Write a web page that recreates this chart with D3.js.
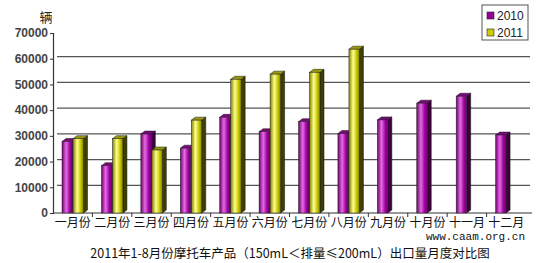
<!DOCTYPE html>
<html>
<head>
<meta charset="utf-8">
<script src="https://cdn.jsdelivr.net/npm/d3@7"></script>
<style>
body { margin: 0; background: #fff; }
svg { display: block; }
</style>
</head>
<body>
<div id="chart"></div>
<script>
// data
var months = ["一月份", "二月份", "三月份", "四月份", "五月份", "六月份", "七月份", "八月份", "九月份", "十月份", "十一月", "十二月"];
var years = ["2010", "2011"];
var values2010 = [27800, 18400, 30700, 25200, 37200, 31600, 35500, 30900, 36200, 42700, 45400, 30300];
var values2011 = [28900, 28900, 24500, 36100, 52000, 54000, 54700, 63700, null, null, null, null];
var yTicks = [0, 10000, 20000, 30000, 40000, 50000, 60000, 70000];

var svgWidth = 550, svgHeight = 263;
var svg = d3.select("#chart").append("svg")
    .attr("width", svgWidth)
    .attr("height", svgHeight);

var x0 = d3.scaleBand().domain(months).range([53, 526]);
var x1 = d3.scaleBand().domain(years).range([9, 31]);
var y = d3.scaleLinear().domain([0, 70000]).range([213, 33]);

var depthX = 4, depthY = 3;

var palette = {
    "2010": { dark: "#6e006e", mid: "#a000a0", light: "#e46ce4", top: "#7a0a7a", side: "#3c003c", swatch: "#990099" },
    "2011": { dark: "#808000", mid: "#c4c400", light: "#ffff8c", top: "#9a9a10", side: "#3e3e00", swatch: "#cccc00" }
};

// gradients for front faces
var defs = svg.append("defs");
years.forEach(function (yr) {
    var g = defs.append("linearGradient").attr("id", "g" + yr)
        .attr("x1", "0").attr("x2", "1").attr("y1", "0").attr("y2", "0");
    g.append("stop").attr("offset", "0%").attr("stop-color", palette[yr].dark);
    g.append("stop").attr("offset", "40%").attr("stop-color", palette[yr].light);
    g.append("stop").attr("offset", "75%").attr("stop-color", palette[yr].mid);
    g.append("stop").attr("offset", "100%").attr("stop-color", palette[yr].dark);
});

// gridlines (back wall, shifted for depth)
svg.append("g").attr("class", "grid")
    .selectAll("line")
    .data(yTicks.filter(function (d) { return d > 0 && d < 70000; }))
    .enter().append("line")
    .attr("x1", 53 + depthX).attr("x2", 530)
    .attr("y1", function (d) { return y(d) - 2; })
    .attr("y2", function (d) { return y(d) - 2; })
    .attr("stroke", "#555")
    .attr("stroke-width", 1.2);

// y axis
var yAxis = d3.axisLeft(y).tickValues(yTicks).tickSize(3).tickPadding(2).tickFormat(d3.format("d"));
var yG = svg.append("g").attr("transform", "translate(53,0)").call(yAxis);
yG.select(".domain").attr("stroke", "#333").attr("stroke-width", 1.2);
yG.selectAll(".tick line").attr("stroke", "#333");
yG.selectAll(".tick text")
    .attr("font-family", "Arial, 'Liberation Sans', sans-serif")
    .attr("font-size", 12)
    .attr("font-weight", "bold")
    .attr("fill", "#444");

// x axis
var xAxis = d3.axisBottom(x0).tickSize(0).tickPadding(5);
var xG = svg.append("g").attr("transform", "translate(0,213)").call(xAxis);
xG.select(".domain").attr("d", "M53,0H532").attr("stroke", "#333").attr("stroke-width", 1.2);
xG.selectAll(".tick text")
    .attr("font-family", "'Noto Sans CJK SC', sans-serif")
    .attr("font-size", 12)
    .attr("fill", "#111");
// category boundary ticks
xG.selectAll(".sep").data(months.slice(1)).enter().append("line")
    .attr("class", "sep")
    .attr("x1", function (d) { return x0(d); })
    .attr("x2", function (d) { return x0(d); })
    .attr("y1", 0).attr("y2", 4)
    .attr("stroke", "#333");

// bars
var rows = [];
months.forEach(function (m, i) {
    rows.push({ month: m, year: "2010", value: values2010[i] });
    if (values2011[i] != null) rows.push({ month: m, year: "2011", value: values2011[i] });
});

var bars = svg.append("g").selectAll("g.bar").data(rows).enter()
    .append("g").attr("class", "bar");

bars.each(function (d) {
    var g = d3.select(this);
    var bx = x0(d.month) + x1(d.year);
    var w = x1.bandwidth() - 0.5;
    var top = y(d.value), base = y(0);
    var c = palette[d.year];
    // side face
    g.append("polygon")
        .attr("points", [[bx + w, top], [bx + w + depthX, top - depthY], [bx + w + depthX, base - depthY], [bx + w, base]].join(" "))
        .attr("fill", c.side).attr("stroke", "#111").attr("stroke-width", 0.5);
    // top face
    g.append("polygon")
        .attr("points", [[bx, top], [bx + depthX, top - depthY], [bx + w + depthX, top - depthY], [bx + w, top]].join(" "))
        .attr("fill", c.top).attr("stroke", "#111").attr("stroke-width", 0.5);
    // front face
    g.append("rect")
        .attr("x", bx).attr("y", top)
        .attr("width", w).attr("height", base - top)
        .attr("fill", "url(#g" + d.year + ")")
        .attr("stroke", "#222").attr("stroke-width", 0.5);
});

// unit label
svg.append("text")
    .attr("x", 46).attr("y", 22)
    .attr("text-anchor", "middle")
    .attr("font-family", "'Noto Sans CJK SC', sans-serif")
    .attr("font-size", 13)
    .attr("fill", "#222")
    .text("辆");

// legend
var legend = svg.append("g").attr("transform", "translate(482,5)");
legend.append("rect")
    .attr("width", 46).attr("height", 35)
    .attr("fill", "#fff").attr("stroke", "#555");
years.forEach(function (yr, i) {
    var row = legend.append("g").attr("transform", "translate(5," + (11 + i * 17) + ")");
    row.append("rect")
        .attr("x", 0).attr("y", -4)
        .attr("width", 7).attr("height", 7)
        .attr("fill", palette[yr].swatch).attr("stroke", "#222").attr("stroke-width", 0.6);
    row.append("text")
        .attr("x", 10).attr("y", 4)
        .attr("font-family", "Arial, 'Liberation Sans', sans-serif")
        .attr("font-size", 12)
        .attr("fill", "#222")
        .text(yr);
});

// source
svg.append("text")
    .attr("x", 525).attr("y", 240)
    .attr("text-anchor", "end")
    .attr("font-family", "'Liberation Mono', 'DejaVu Sans Mono', monospace")
    .attr("font-size", 11)
    .attr("fill", "#111")
    .text("www.caam.org.cn");

// title
svg.append("text")
    .attr("x", 290).attr("y", 258)
    .attr("text-anchor", "middle")
    .attr("font-family", "'Noto Sans CJK SC', sans-serif")
    .attr("font-size", 12.5)
    .attr("fill", "#111")
    .text("2011年1-8月份摩托车产品（150mL＜排量≤200mL）出口量月度对比图");
</script>
</body>
</html>
